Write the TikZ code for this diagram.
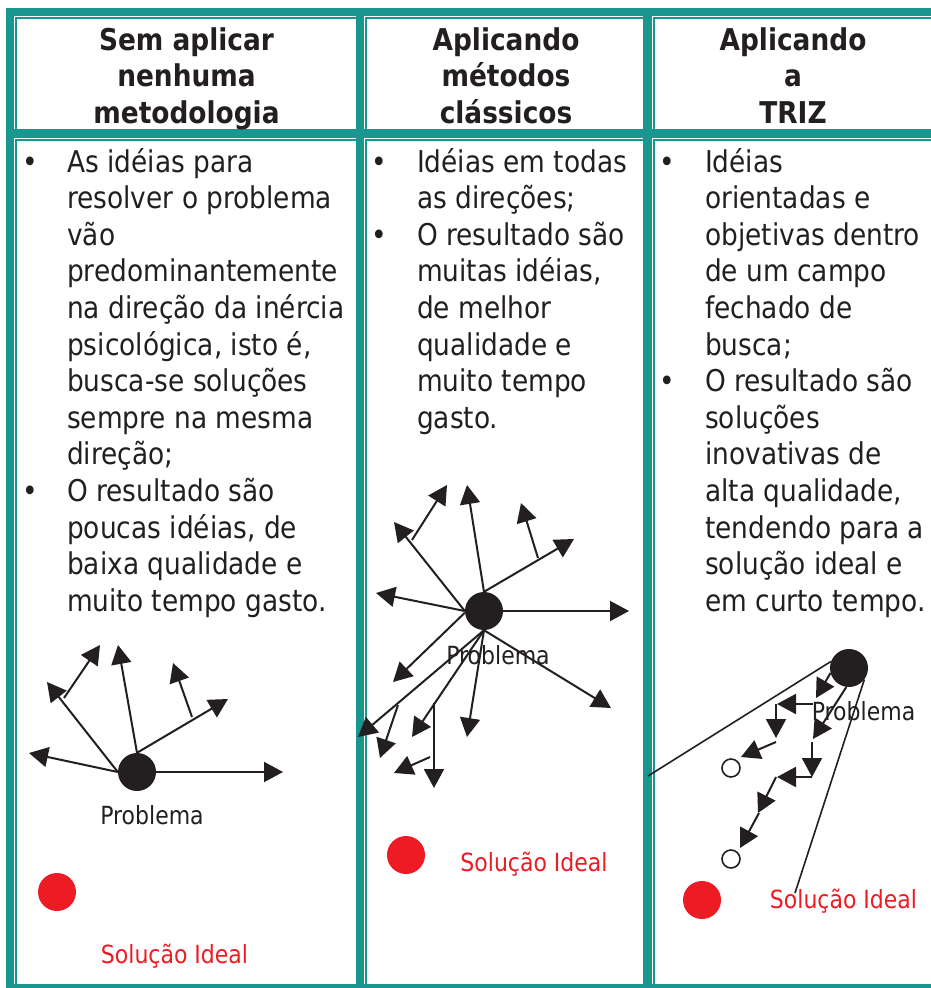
\documentclass[tikz,border=0pt]{standalone}
\usepackage{fontspec}
\setmainfont{DejaVu Sans}[FakeStretch=0.88]
\usetikzlibrary{arrows.meta,calc}
\definecolor{tealband}{RGB}{24,150,143}
\definecolor{ink}{RGB}{35,31,32}
\definecolor{idealred}{RGB}{237,28,36}
\tikzset{
  body/.style={font=\fontsize{30}{36}\selectfont, text=ink, inner sep=0pt},
  head/.style={font=\bfseries\fontsize{30}{36}\selectfont, text=ink, inner sep=0pt, anchor=base},
  lab/.style={font=\fontsize{25}{30}\selectfont, inner sep=0pt, anchor=base},
  probdot/.style={circle, fill=ink, minimum size=38pt, inner sep=0pt},
  idealdot/.style={circle, fill=idealred, minimum size=38pt, inner sep=0pt},
  opendot/.style={circle, draw=ink, line width=1.6pt, fill=white, minimum size=18pt, inner sep=0pt},
  arr/.style={draw=ink, line width=2pt, -{Triangle[length=19pt,width=20pt]}},
  ray/.style={draw=ink, line width=1.6pt},
}
\newcommand{\cellbox}[4]{%
  \fill[white] (#1-3.5,#2-3.5) rectangle (#3,#4);
  \fill[tealband] (#1-2.5,#2-2.5) rectangle (#3,#4);
  \fill[white] (#1,#2) rectangle (#3,#4);}
\begin{document}
\begin{tikzpicture}[x=1pt,y=-1pt]
\useasboundingbox (0,0) rectangle (931,988);
\fill[white] (0,0) rectangle (931,988);
\fill[tealband] (6,8) rectangle (931,988);
% cells
\cellbox{17}{19}{356}{129}
\cellbox{367}{19}{643}{129}
\cellbox{655}{19}{931}{129}
\cellbox{17}{141}{356}{984}
\cellbox{367}{141}{643}{984}
\cellbox{655}{141}{931}{984}
% headers
\node[head] (h11) at (186.5,50) {Sem aplicar};
\node[head] (h12) at (186.5,86.5) {nenhuma};
\node[head] (h13) at (186.5,123) {metodologia};
\node[head] (h21) at (506,50) {Aplicando};
\node[head] (h22) at (506,86.5) {métodos};
\node[head] (h23) at (506,123) {clássicos};
\node[head] (h31) at (793,50) {Aplicando};
\node[head] (h32) at (793,86.5) {a};
\node[head] (h33) at (793,123) {TRIZ};
% body text
\foreach \t [count=\i from 0] in {{As idéias para},{resolver o problema},{vão},{predominantemente},{na direção da inércia},{psicológica, isto é,},{busca-se soluções},{sempre na mesma},{direção;},{O resultado são},{poucas idéias, de},{baixa qualidade e},{muito tempo gasto.}}
  \node[body, anchor=base west] (ta\i) at (67,172+36.6*\i) {\t};
\foreach \t [count=\i from 0] in {{Idéias em todas},{as direções;},{O resultado são},{muitas idéias,},{de melhor},{qualidade e},{muito tempo},{gasto.}}
  \node[body, anchor=base west] (tb\i) at (417,172+36.6*\i) {\t};
\foreach \t [count=\i from 0] in {{Idéias},{orientadas e},{objetivas dentro},{de um campo},{fechado de},{busca;},{O resultado são},{soluções},{inovativas de},{alta qualidade,},{tendendo para a},{solução ideal e},{em curto tempo.}}
  \node[body, anchor=base west] (tc\i) at (705,172+36.6*\i) {\t};
% bullets
\node[body, anchor=base] (ba1) at (30,172) {•};
\node[body, anchor=base] (ba2) at (30,172+36.6*9) {•};
\node[body, anchor=base] (bb1) at (379,172) {•};
\node[body, anchor=base] (bb2) at (379,172+36.6*2) {•};
\node[body, anchor=base] (bc1) at (667,172) {•};
\node[body, anchor=base] (bc2) at (667,172+36.6*6) {•};

% ---------- column 1 diagram ----------
\node[probdot] (p1) at (137,772) {};
\coordinate (a1e) at (283,772);
\coordinate (a1w) at (29,753);
\coordinate (a1nw) at (47,682);
\coordinate (a1nws) at (64,698);
\coordinate (a1nwt) at (100,645);
\coordinate (a1n) at (118,645);
\coordinate (a1ne) at (228,699);
\coordinate (a1nes) at (192,717);
\coordinate (a1net) at (173,663);
\draw[arr] (p1.0) -- (a1e);
\draw[arr] (p1.180) -- (a1w);
\draw[arr] (p1.180) -- (a1nw);
\draw[arr] (a1nws) -- (a1nwt);
\draw[arr] (p1.90) -- (a1n);
\draw[arr] (p1.90) -- (a1ne);
\draw[arr] (a1nes) -- (a1net);
\node[lab, text=ink] (l1) at (152,824) {Problema};
\node[idealdot] (r1) at (57,892) {};
\node[lab, text=idealred] (s1) at (174.5,963) {Solução Ideal};

% ---------- column 2 diagram ----------
\node[probdot] (p2) at (484,611) {};
\coordinate (b1) at (629,611);
\coordinate (b2) at (376,593);
\coordinate (b3) at (394,522);
\coordinate (b3s) at (412,540);
\coordinate (b3t) at (447,485);
\coordinate (b4) at (467,485);
\coordinate (b5) at (574,539);
\coordinate (b5s) at (538,558);
\coordinate (b5t) at (521,503);
\coordinate (b6) at (611,708);
\coordinate (b7) at (393,682);
\coordinate (b8) at (358,737);
\coordinate (b8s) at (398,705);
\coordinate (b8t) at (380,758);
\coordinate (b9) at (412,737);
\coordinate (b9s) at (434,703);
\coordinate (b9t) at (434,788);
\coordinate (b10) at (467,737);
\coordinate (b12s) at (430,757);
\coordinate (b12t) at (394,773);
\draw[arr] (p2.0) -- (b1);
\draw[arr] (p2.180) -- (b2);
\draw[arr] (p2.180) -- (b3);
\draw[arr] (b3s) -- (b3t);
\draw[arr] (p2.90) -- (b4);
\draw[arr] (p2.90) -- (b5);
\draw[arr] (b5s) -- (b5t);
\draw[arr] (p2.270) -- (b6);
\draw[arr] (p2.185) -- (b7);
\draw[arr] (p2.270) -- (b8);
\draw[arr] (b8s) -- (b8t);
\draw[arr] (p2.270) -- (b9);
\draw[arr] (b9s) -- (b9t);
\draw[arr] (p2.270) -- (b10);
\draw[arr] (b12s) -- (b12t);
\node[lab, text=ink] (l2) at (498,664) {Problema};
\node[idealdot] (r2) at (406,855) {};
\node[lab, text=idealred] (s2) at (534,871) {Solução Ideal};

% ---------- column 3 diagram ----------
\node[probdot] (p3) at (849,668) {};
\coordinate (c1) at (648,776);
\coordinate (c2) at (795,893);
\draw[ray] (p3.160) -- (c1);
\draw[ray] (p3.-37) -- (c2);
\coordinate (ca) at (816,698);
\coordinate (cb0) at (813,704);
\coordinate (cb) at (777,704);
\coordinate (cc0) at (776,704);
\coordinate (cc) at (776,738);
\coordinate (cd0) at (776,742);
\coordinate (cd) at (741,757);
\coordinate (cf) at (813,739);
\coordinate (cg0) at (812,742);
\coordinate (cg) at (812,777);
\coordinate (ch0) at (812,777);
\coordinate (ch) at (777,777);
\coordinate (ci0) at (776,777);
\coordinate (ci) at (758,813);
\coordinate (cj0) at (759,813);
\coordinate (cj) at (740,848);
\draw[arr] (p3.195) -- (ca);
\draw[arr] (cb0) -- (cb);
\draw[arr] (cc0) -- (cc);
\draw[arr] (cd0) -- (cd);
\draw[arr] (p3.262) -- (cf);
\draw[arr] (cg0) -- (cg);
\draw[arr] (ch0) -- (ch);
\draw[arr] (ci0) -- (ci);
\draw[arr] (cj0) -- (cj);
\node[opendot] (o1) at (731,768) {};
\node[opendot] (o2) at (731,859) {};
\node[lab, text=ink] (l3) at (863.5,720) {Problema};
\node[idealdot] (r3) at (702,900) {};
\node[lab, text=idealred] (s3) at (843.5,908) {Solução Ideal};
\end{tikzpicture}
\end{document}
